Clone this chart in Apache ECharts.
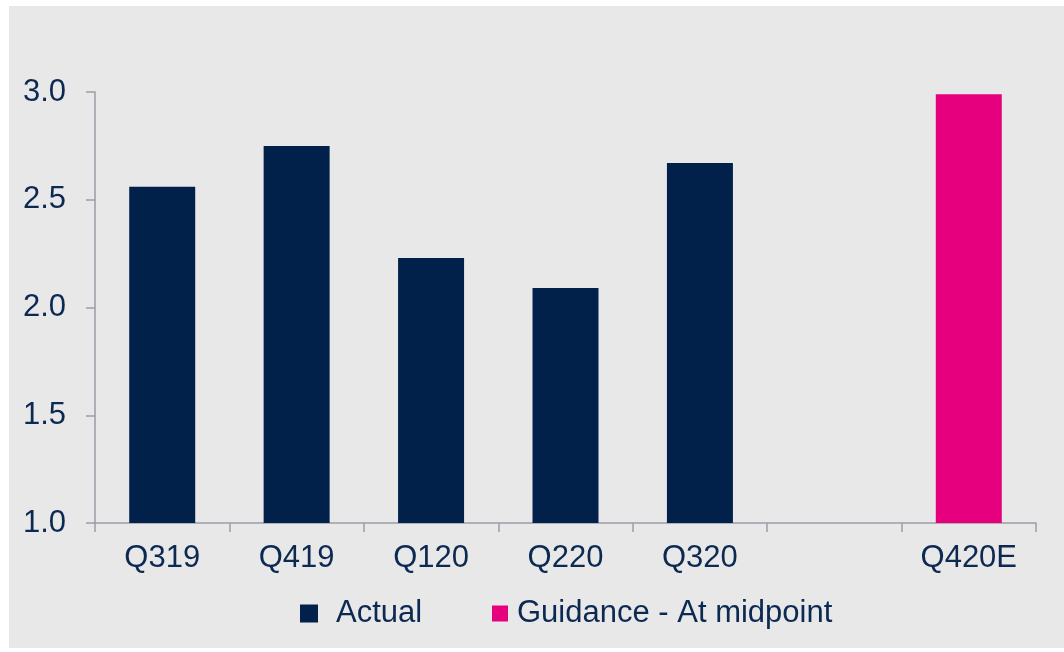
<!DOCTYPE html>
<html>
<head>
<meta charset="utf-8">
<script src="https://cdn.jsdelivr.net/npm/echarts@6/dist/echarts.min.js"></script>
<style>
html,body{margin:0;padding:0;background:#ffffff;}
#chart{width:1064px;height:652px;}
</style>
</head>
<body>
<div id="chart"></div>
<script>
var categories = ['Q319', 'Q419', 'Q120', 'Q220', 'Q320', '', 'Q420E'];
var actualValues = [2.56, 2.75, 2.23, 2.09, 2.67, '-', '-'];
var guidanceValues = ['-', '-', '-', '-', '-', '-', 2.99];
var yTicks = {min: 1.0, max: 3.0, interval: 0.5};

var navy = '#02214a';
var pink = '#e6007e';
var textColor = '#0c2952';
var axisColor = '#9a9ca6';
var fontFamily = '"Liberation Sans", Arial, sans-serif';

var chart = echarts.init(document.getElementById('chart'));
chart.setOption({
  backgroundColor: '#ffffff',
  animation: false,
  graphic: [{
    type: 'rect', z: -10, silent: true,
    shape: {x: 9, y: 6, width: 1055, height: 642},
    style: {fill: '#e8e8e8'}
  }],
  grid: {left: 95, right: 28, top: 92, bottom: 129, containLabel: false},
  legend: [{
    data: ['Actual'],
    left: 295, top: 593,
    itemWidth: 18, itemHeight: 18, icon: 'rect',
    textStyle: {color: textColor, fontSize: 31, fontFamily: fontFamily, padding: [0, 0, 0, 13]}
  }, {
    data: ['Guidance - At midpoint'],
    left: 487, top: 593,
    itemWidth: 16, itemHeight: 16, icon: 'rect',
    textStyle: {color: textColor, fontSize: 31, fontFamily: fontFamily, padding: [0, 0, 0, 4]}
  }],
  xAxis: {
    type: 'category',
    data: categories,
    boundaryGap: true,
    axisLine: {show: true, lineStyle: {color: axisColor, width: 1.5}},
    axisTick: {show: true, length: 9, lineStyle: {color: axisColor, width: 1.5}},
    axisLabel: {color: textColor, fontSize: 31, fontFamily: fontFamily, margin: 20, interval: 0}
  },
  yAxis: {
    type: 'value',
    min: yTicks.min, max: yTicks.max, interval: yTicks.interval,
    splitLine: {show: false},
    axisLine: {show: true, lineStyle: {color: axisColor, width: 1.5}},
    axisTick: {show: true, length: 9, lineStyle: {color: axisColor, width: 1.5}},
    axisLabel: {color: textColor, fontSize: 31, fontFamily: fontFamily, margin: 29,
      formatter: function (v) { return v.toFixed(1); }}
  },
  series: [{
    name: 'Actual', type: 'bar', data: actualValues,
    barWidth: 66, barGap: '-100%',
    itemStyle: {color: navy}
  }, {
    name: 'Guidance - At midpoint', type: 'bar', data: guidanceValues,
    barWidth: 66, barGap: '-100%',
    itemStyle: {color: pink}
  }]
});
</script>
</body>
</html>
